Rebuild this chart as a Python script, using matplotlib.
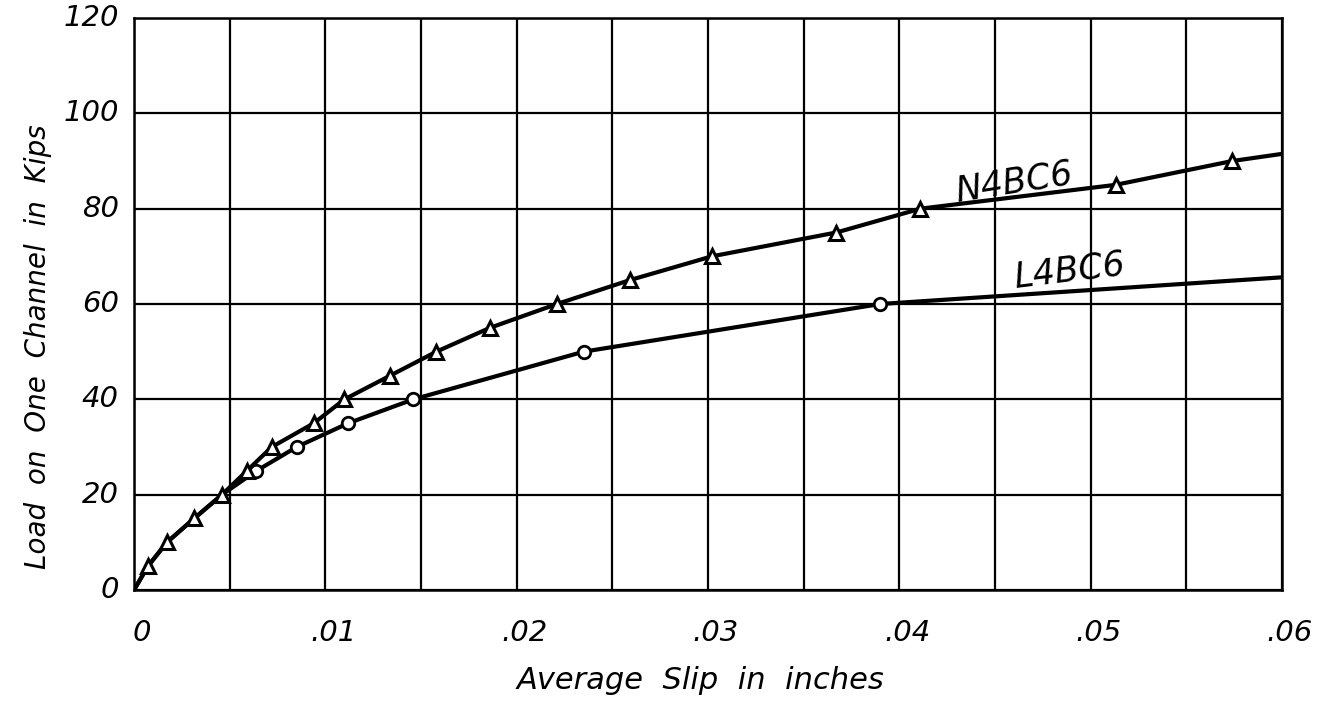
import numpy as np
import matplotlib.pyplot as plt

# N4BC6 (triangles) - slip in inches, load in kips
n_slip = [0, 0.00073, 0.00172, 0.00314, 0.0046, 0.0059, 0.0072, 0.0094, 0.0110,
          0.0134, 0.0158, 0.0186, 0.0221, 0.0259, 0.0302, 0.0367, 0.0411,
          0.0513, 0.0574, 0.060]
n_load = [0, 5, 10, 15, 20, 25, 30, 35, 40, 45, 50, 55, 60, 65, 70, 75, 80, 85, 90, 91.5]

# L4BC6 (circles)
l_slip = [0, 0.00073, 0.00172, 0.00314, 0.0046, 0.0064, 0.0085, 0.0112, 0.0146,
          0.0235, 0.0390, 0.060]
l_load = [0, 5, 10, 15, 20, 25, 30, 35, 40, 50, 60, 65.6]

x_ticks = [0, 0.01, 0.02, 0.03, 0.04, 0.05, 0.06]
x_labels = ["0", ".01", ".02", ".03", ".04", ".05", ".06"]
y_ticks = [0, 20, 40, 60, 80, 100, 120]

font = dict(family="DejaVu Sans", style="italic")

fig = plt.figure(figsize=(13.19, 7.07), dpi=100)
ax = fig.add_axes([0.1016, 0.1655, 0.8704, 0.809])

ax.plot(l_slip, l_load, color="black", lw=3, marker="o", ms=9,
        mfc="white", mec="black", mew=2, markevery=list(range(5, len(l_slip) - 1)),
        zorder=3)
ax.plot(n_slip, n_load, color="black", lw=3, marker="^", ms=10,
        mfc="white", mec="black", mew=2.2, markevery=list(range(1, len(n_slip) - 1)),
        zorder=4)

ax.set_xlim(0, 0.06)
ax.set_ylim(0, 120)
ax.set_xticks(np.arange(0, 0.0601, 0.005))
ax.set_yticks(np.arange(0, 121, 20))
ax.grid(True, color="black", lw=1.6)
ax.tick_params(length=0, labelbottom=False, labelleft=False)
for s in ax.spines.values():
    s.set_linewidth(1.8)

for x, lab in zip(x_ticks, x_labels):
    ax.text(x + 0.0004, -9, lab, ha="center", va="center", fontsize=21, **font)
for y in y_ticks:
    ax.text(-0.0008, y, str(y), ha="right", va="center", fontsize=21, **font)

ax.text(0.0296, -19, "Average  Slip  in  inches", ha="center", va="center",
        fontsize=22, **font)
ax.text(-0.0050, 51, "Load  on  One  Channel  in  Kips", ha="center", va="center",
        rotation=90, fontsize=20, **font)

ax.text(0.0460, 85.5, "N4BC6", ha="center", va="center", rotation=9,
        fontsize=25, **font)
ax.text(0.0489, 67, "L4BC6", ha="center", va="center", rotation=7,
        fontsize=25, **font)

for t in ax.texts:
    t.set_clip_on(False)

fig.savefig("out.png", dpi=100)
